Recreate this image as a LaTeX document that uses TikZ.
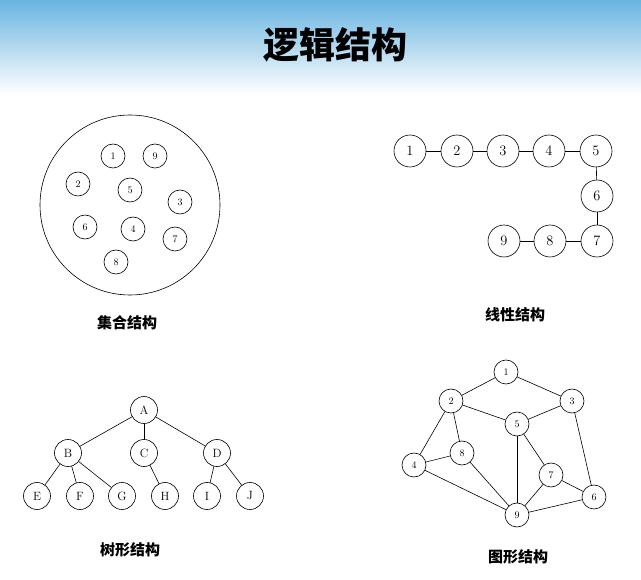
\documentclass[tikz,border=0pt]{standalone}
\usepackage{fontspec}
\newfontfamily\cjk{Noto Sans CJK SC}
\newfontfamily\cjkbold{Noto Sans CJK SC Black}
\usetikzlibrary{positioning}

\begin{document}
\begin{tikzpicture}
[x = 1pt, y = -1pt, line cap = round, semithick,
small node/.style = {draw, circle, minimum size = 24pt, inner sep = 0pt, font = \normalsize},
chain node/.style = {draw, circle, minimum size = 32pt, inner sep = 0pt, font = \Large},
tree node/.style = {draw, circle, minimum size = 27pt, inner sep = 0pt, font = \large},
caption text/.style = {font = \cjk\bfseries\fontsize{15}{15}\selectfont}]

\definecolor{headblue}{RGB}{105,180,225}
\useasboundingbox (0, 0) rectangle (641, 580);
\shade[top color = headblue, bottom color = white] (0, 0) rectangle (641, 95);
\node (title) at (335, 45) {\cjkbold\fontsize{36}{36}\selectfont 逻辑结构};

% set
\draw (130, 205) circle [radius = 90pt];
\foreach \n/\x/\y in {1/113/156, 9/155/156, 2/78/184, 5/130/190, 3/180/202, 6/85/227, 4/133/229, 7/175/239, 8/116/262}
  \node[small node] (s\n) at (\x, \y) {\n};
\node[caption text] (set caption) at (127, 323) {集合结构};

% linear
\foreach \n/\x/\y in {1/410/151, 2/457/151, 3/503/151, 4/549/151, 5/596/151, 6/597/196, 7/597/241, 8/550/241, 9/504/241}
  \node[chain node] (l\n) at (\x, \y) {\n};
\foreach \a/\b in {1/2, 2/3, 3/4, 4/5, 5/6, 6/7, 7/8, 8/9}
  \draw (l\a) -- (l\b);
\node[caption text] (linear caption) at (515, 315) {线性结构};

% tree
\foreach \n/\x/\y in {A/144/410, B/68/453, C/144/453, D/217/453, E/37/496, F/80/496, G/122/496, H/165/496, I/207/496, J/250/496}
  \node[tree node] (t\n) at (\x, \y) {\n};
\foreach \a/\b in {A/B, A/C, A/D, B/E, B/F, B/G, C/H, D/I, D/J}
  \draw (t\a) -- (t\b);
\node[caption text] (tree caption) at (130, 550) {树形结构};

% graph
\foreach \n/\x/\y in {1/506/372, 2/451/401, 3/572/401, 5/517/424, 8/462/453, 4/414/465, 7/551/475, 6/594/497, 9/517/515}
  \node[small node] (g\n) at (\x, \y) {\n};
\foreach \a/\b in {1/2, 1/3, 2/5, 3/5, 2/4, 2/8, 4/8, 4/9, 8/9, 5/9, 5/7, 7/9, 7/6, 3/6, 6/9}
  \draw (g\a) -- (g\b);
\node[caption text] (graph caption) at (518, 557) {图形结构};
\end{tikzpicture}
\end{document}
